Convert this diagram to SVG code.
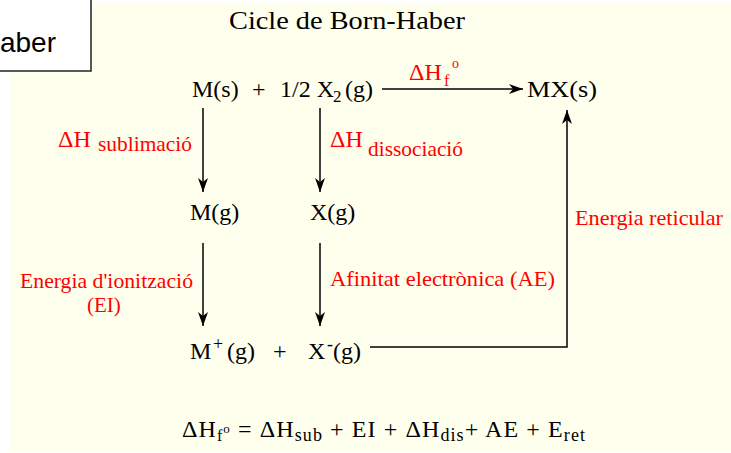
<svg xmlns="http://www.w3.org/2000/svg" width="731" height="453" viewBox="0 0 731 453">
<style>
.t{font-family:"Liberation Serif","DejaVu Serif","Times New Roman",serif;fill:#000;font-size:24px}
.r{font-family:"Liberation Serif","DejaVu Serif","Times New Roman",serif;fill:#f00;font-size:21px}
.ln{stroke:#000;stroke-width:1.5;fill:none}
</style>
<defs>
<marker id="ah" viewBox="0 0 14 10" refX="14" refY="5" markerWidth="14" markerHeight="10" markerUnits="userSpaceOnUse" orient="auto">
<path d="M0,0 L14,5 L0,10 L4,5 z" fill="#000"/>
</marker>
</defs>
<rect x="10" y="3" width="721" height="449" fill="#FFFFEE"/>
<g id="label-box">
<rect x="-2" y="-2" width="93" height="73" fill="#fff" stroke="#222" stroke-width="1.5"/>
<text x="56" y="52" text-anchor="end" font-family="Liberation Sans, Arial, sans-serif" font-size="28">aber</text>
</g>
<g id="title"><text class="t" x="229" y="29" style="font-size:26px" textLength="236" lengthAdjust="spacingAndGlyphs">Cicle de Born-Haber</text></g>

<g id="connectors">
<line class="ln" x1="382" y1="89" x2="523" y2="89" marker-end="url(#ah)"/>
<line class="ln" x1="203" y1="108" x2="203" y2="192" marker-end="url(#ah)"/>
<line class="ln" x1="320" y1="108" x2="320" y2="192" marker-end="url(#ah)"/>
<line class="ln" x1="203" y1="243" x2="203" y2="326" marker-end="url(#ah)"/>
<line class="ln" x1="320" y1="243" x2="320" y2="326" marker-end="url(#ah)"/>
<polyline class="ln" points="370,347 567,347 567,110" marker-end="url(#ah)"/>
</g>

<g id="reactants">
<text class="t" x="192" y="97">M(s)</text>
<text class="t" x="252" y="97">+</text>
<text class="t" x="280" y="97">1/2 X<tspan x="333" y="102" style="font-size:17px">2</tspan><tspan x="345" y="97">(g)</tspan></text>
</g>
<g id="product"><text class="t" x="527" y="97" textLength="70" lengthAdjust="spacingAndGlyphs">MX(s)</text></g>
<g id="label-hf">
<text class="r" x="409" y="80" style="font-size:24px">ΔH</text>
<text class="r" x="444" y="86" style="font-size:16px">f</text>
<text class="r" x="452" y="68" style="font-size:14px">o</text>
</g>
<g id="label-sub">
<text class="r" x="58" y="147" style="font-size:24px">ΔH</text>
<text class="r" x="98" y="151" textLength="94" lengthAdjust="spacingAndGlyphs">sublimació</text>
</g>
<g id="label-dis">
<text class="r" x="330" y="147" style="font-size:24px">ΔH</text>
<text class="r" x="368" y="156" textLength="95" lengthAdjust="spacingAndGlyphs">dissociació</text>
</g>
<g id="Mg"><text class="t" x="190" y="220">M(g)</text></g>
<g id="Xg"><text class="t" x="310" y="220">X(g)</text></g>
<g id="label-ei">
<text class="r" x="20" y="288" textLength="173" lengthAdjust="spacingAndGlyphs">Energia d'ionització</text>
<text class="r" x="87" y="312">(EI)</text>
</g>
<g id="label-ae"><text class="r" x="330" y="286" textLength="225" lengthAdjust="spacingAndGlyphs">Afinitat electrònica (AE)</text></g>
<g id="label-ret"><text class="r" x="575" y="225" textLength="148" lengthAdjust="spacingAndGlyphs">Energia reticular</text></g>
<g id="ions">
<text class="t" x="190" y="359">M<tspan x="213" y="350" style="font-size:18px">+</tspan><tspan x="227" y="359">(g)</tspan></text>
<text class="t" x="273" y="359">+</text>
<text class="t" x="308" y="359">X<tspan x="327" y="350" style="font-size:18px">-</tspan><tspan x="333" y="359">(g)</tspan></text>
</g>
<g id="equation">
<text class="t" x="182" y="437" textLength="403" lengthAdjust="spacing">ΔH<tspan dy="4" style="font-size:16px">f</tspan><tspan dy="-8" style="font-size:13px">o</tspan><tspan dy="4"> = ΔH</tspan><tspan dy="4" style="font-size:18px">sub</tspan><tspan dy="-4"> + EI + ΔH</tspan><tspan dy="4" style="font-size:18px">dis</tspan><tspan dy="-4">+ AE + E</tspan><tspan dy="4" style="font-size:18px">ret</tspan></text>
</g>
</svg>
